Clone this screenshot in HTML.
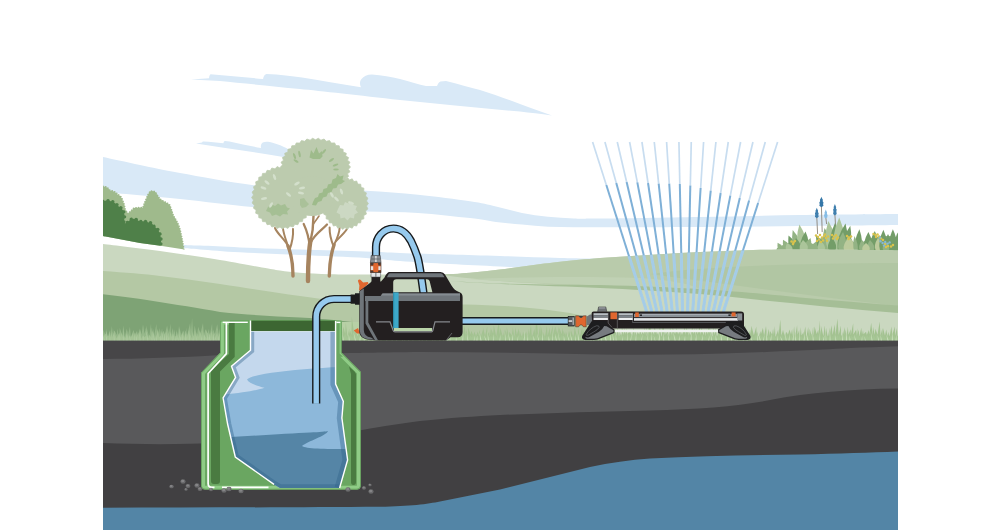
<!DOCTYPE html>
<html lang="en">
<head>
<meta charset="utf-8">
<title>Garden pump rainwater tank illustration</title>
<style>
html,body{margin:0;padding:0;background:#fff;}
body{width:1000px;height:530px;overflow:hidden;font-family:"Liberation Sans",sans-serif;}
svg{display:block;}
</style>
</head>
<body>
<svg width="1000" height="530" viewBox="0 0 1000 530" role="img" aria-label="Garden pump drawing water from an underground rainwater tank to a lawn sprinkler">
<rect width="1000" height="530" fill="#fff"/>
<clipPath id="frame"><rect x="103" y="0" width="795" height="530"/></clipPath>
<g clip-path="url(#frame)">
<g id="sky" fill="#d9e9f7">
<path d="M191,79.4 L209,78.2 C209.3,76.5 209.5,75 210.5,74.3 C228,75.5 246,77.5 263,79 C263.5,77 264,74.8 266.5,74 C280,74.5 292,76 302,77.5 C320,80.5 340,84 361,87.2 C359.5,84.5 359.5,81.5 361.5,79 C363.5,76 367,74.5 372,74.4 C382,75 391,77 400,79 C410,81.5 419,84.5 426,86 L437,86 C438,84 438.5,82 440.5,81.5 L446,81 C458,84 470,87.5 480,90 C494,94.5 508,99.5 520,104 C532,108.5 543,112.5 552,115.4 C540,114 530,112.8 520,111.6 C480,108 440,104 400,100 C360,95.5 320,91 300,89 C270,86 240,83 220,81 Z"/>
<path d="M196,143.5 L202,142.6 C202.3,141.8 202.6,141.5 203.5,141.4 C210,141.8 217,142.6 223.4,143.2 C223.6,142 224,141.2 225,141 C231,141.6 237,143 243,144.6 C249,145.8 255,147 261,148 C260.6,146 261,143.5 262.8,142.5 C264.5,141.7 266.5,141.6 268,141.8 C272,142.4 275,143.5 278,144.6 C282,146 285,147.5 288,149 L300,154 L300,160 C280,155.8 250,151.6 222,147.4 Z"/>
<path d="M103.0,157.0 C109.2,158.3 127.2,162.3 140.0,165.0 C152.8,167.7 161.3,169.7 180.0,173.0 C198.7,176.3 230.3,182.3 252.0,185.0 C273.7,187.7 291.0,188.0 310.0,189.0 C329.0,190.0 348.0,189.9 366.0,190.8 C384.0,191.8 400.7,193.0 418.0,194.7 C435.3,196.4 457.0,199.2 470.0,201.2 C483.0,203.1 487.3,204.4 496.0,206.4 C504.7,208.4 513.3,211.2 522.0,212.9 C530.7,214.6 539.3,215.9 548.0,216.8 C556.7,217.7 565.3,218.1 574.0,218.4 C582.7,218.7 579.0,218.8 600.0,218.6 C621.0,218.4 666.7,217.6 700.0,217.0 C733.3,216.4 767.0,215.5 800.0,215.0 C833.0,214.5 881.7,214.2 898.0,214.0 L898.0,225.0 C881.7,225.2 833.0,225.7 800.0,226.0 C767.0,226.3 733.3,226.8 700.0,227.0 C666.7,227.2 621.0,227.2 600.0,227.2 C579.0,227.2 582.7,227.3 574.0,227.2 C565.3,227.1 556.7,227.1 548.0,226.7 C539.3,226.3 530.7,225.4 522.0,224.6 C513.3,223.8 504.7,223.1 496.0,222.0 C487.3,220.9 483.0,219.6 470.0,218.1 C457.0,216.6 435.3,214.0 418.0,212.9 C400.7,211.8 384.0,212.1 366.0,211.6 C348.0,211.1 329.0,210.8 310.0,210.0 C291.0,209.2 273.7,208.8 252.0,207.0 C230.3,205.2 204.8,201.5 180.0,199.0 C155.2,196.5 115.8,193.2 103.0,192.0 Z"/>
<path d="M183.0,244.9 C185.8,245.0 190.5,245.2 200.0,245.6 C209.5,246.0 223.3,246.8 240.0,247.4 C256.7,248.1 279.0,248.8 300.0,249.5 C321.0,250.2 349.3,251.0 366.0,251.6 C382.7,252.2 386.0,252.5 400.0,253.0 C414.0,253.5 433.3,254.0 450.0,254.5 C466.7,255.0 481.7,255.4 500.0,256.0 C518.3,256.6 540.0,257.5 560.0,258.0 C580.0,258.5 610.0,258.8 620.0,259.0 L620.0,272.0 C610.0,271.7 580.0,270.9 560.0,270.0 C540.0,269.1 518.3,267.5 500.0,266.5 C481.7,265.5 466.7,264.9 450.0,264.0 C433.3,263.1 414.0,262.0 400.0,261.0 C386.0,260.0 382.7,259.0 366.0,258.0 C349.3,257.0 321.0,255.9 300.0,255.0 C279.0,254.1 256.7,253.2 240.0,252.3 C223.3,251.4 209.5,250.1 200.0,249.4 C190.5,248.7 185.8,248.5 183.0,248.3 Z"/>
</g>
<clipPath id="bclip"><path d="M103,150 L200,150 L200,252.2 L184.4,249.6 L160.4,245.8 L140,243.1 L103,236.1 Z"/></clipPath>
<g clip-path="url(#bclip)">
<path fill="#9fba8c" d="M103,186.5 C106,186.5 108,188 110,190.5 C113,191 116,192 117.5,194.5 C120,195.5 122,197.5 122.5,200.5 C124,203 124.5,206 125,209 C126,211 127,212.5 128,213.5 C130,212 132,210 134,208 C137,207.5 140,208 143,207.5 C144,204.5 145,201.5 146.5,198.5 C147.5,195.5 149,192.5 150.5,191.2 C152,190.8 154,191.2 155.5,192.2 C157,194.5 158.5,197.5 160.5,199.5 C163,201.5 167,202.5 169.6,205 C171,208 172,212 173.5,216 C175.5,219 178,223 179.5,228 C181,233 182.5,241 183.9,249.6 L184.4,254 L103,254 Z"/>
<path fill="none" stroke="#9fba8c" stroke-width="1.8" stroke-linecap="round" stroke-dasharray="0.01 2.6" d="M103,186.5 C106,186.5 108,188 110,190.5 C113,191 116,192 117.5,194.5 C120,195.5 122,197.5 122.5,200.5 C124,203 124.5,206 125,209 C126,211 127,212.5 128,213.5 C130,212 132,210 134,208 C137,207.5 140,208 143,207.5 C144,204.5 145,201.5 146.5,198.5 C147.5,195.5 149,192.5 150.5,191.2 C152,190.8 154,191.2 155.5,192.2 C157,194.5 158.5,197.5 160.5,199.5 C163,201.5 167,202.5 169.6,205 C171,208 172,212 173.5,216 C175.5,219 178,223 179.5,228 C181,233 182.5,241 183.9,249.6 L184.4,254 L103,254 Z"/>
<path fill="#4f8049" d="M103,201.5 C105,200.5 108,200.3 110,201 C113,201.5 116,203.5 118,206 C121,207.5 123.5,210 124,213 C125,216 124.6,219.5 123.5,222.5 C124.5,223.5 126,223.5 127.5,222.5 C129,220.5 131,219 133.5,218.8 C136,219 138,220.5 140,221.7 C143,221 146,221.3 148.5,222.5 C151,222.5 153,224 154,226.5 C157,228 158.6,230 159.6,233 C161,236.5 161.5,241 160.5,246 L160.5,254 L103,254 Z"/>
<path fill="none" stroke="#4f8049" stroke-width="3.4" stroke-linecap="round" stroke-dasharray="0.01 5" d="M103,201.5 C105,200.5 108,200.3 110,201 C113,201.5 116,203.5 118,206 C121,207.5 123.5,210 124,213 C125,216 124.6,219.5 123.5,222.5 C124.5,223.5 126,223.5 127.5,222.5 C129,220.5 131,219 133.5,218.8 C136,219 138,220.5 140,221.7 C143,221 146,221.3 148.5,222.5 C151,222.5 153,224 154,226.5 C157,228 158.6,230 159.6,233 C161,236.5 161.5,241 160.5,246 L160.5,254 L103,254 Z"/>
</g>
<g id="rbush">
<path d="M816.8,217.2 L817.5999999999999,234" stroke="#7d7466" stroke-width="0.8" fill="none"/>
<path d="M816.8,207.7 L817.4,209.2 L818.13,210.7 L817.9399999999999,212.1 L818.6999999999999,213.29999999999998 L818.3199999999999,215.1 L818.6999999999999,216.7 L816.8,218.2 L814.9,216.7 L815.28,215.1 L814.9,213.29999999999998 L815.66,212.1 L815.4699999999999,210.7 L816.1999999999999,209.2 Z" fill="#3f7fae"/>
<path d="M821.4,206.3 L822.1999999999999,232" stroke="#7d7466" stroke-width="0.8" fill="none"/>
<path d="M821.4,196.8 L822.0,198.3 L822.87,199.8 L822.66,201.20000000000002 L823.5,202.4 L823.0799999999999,204.20000000000002 L823.5,205.8 L821.4,207.3 L819.3,205.8 L819.72,204.20000000000002 L819.3,202.4 L820.14,201.20000000000002 L819.93,199.8 L820.8,198.3 Z" fill="#3577a8"/>
<path d="M825.8,217.5 L826.5999999999999,224" stroke="#7d7466" stroke-width="0.8" fill="none"/>
<path d="M825.8,209.5 L826.4,211.0 L827.06,212.5 L826.88,213.9 L827.5999999999999,215.1 L827.24,216.9 L827.5999999999999,217.0 L825.8,218.5 L824.0,217.0 L824.3599999999999,216.9 L824.0,215.1 L824.7199999999999,213.9 L824.54,212.5 L825.1999999999999,211.0 Z" fill="#86bde6"/>
<path d="M834.9,214.5 L835.6999999999999,228" stroke="#7d7466" stroke-width="0.8" fill="none"/>
<path d="M834.9,204 L835.5,205.5 L836.16,207 L835.98,208.4 L836.6999999999999,209.6 L836.34,211.4 L836.6999999999999,214.0 L834.9,215.5 L833.1,214.0 L833.4599999999999,211.4 L833.1,209.6 L833.8199999999999,208.4 L833.64,207 L834.3,205.5 Z" fill="#3f7fae"/>
<path fill="#93b384" d="M776,251.5 L777,248 L783,245 L790,242 L797,238 L803,238 L809,242 L813,244 L818,240 L826,235 L834,230 L842,230 L849,234 L853,242 L858,240 L863,242 L868,239 L875,237 L883,236 L893,236 L898,238 L898,251.5 Z"/>
<path d="M780.3,251.9 Q776.8,249.3 777.6,242.7 Q783.5,245.7 783.7,250.1 Z" fill="#93b384"/>
<path d="M786.8,252.2 Q782.0,248.6 783.0,239.7 Q790.9,243.9 791.2,249.8 Z" fill="#93b384"/>
<path d="M792.5,252.1 Q787.2,246.6 788.5,235.5 Q797.3,242.4 797.5,249.9 Z" fill="#739d68"/>
<path d="M796.2,251.8 Q790.7,243.9 792.7,230.0 Q802.0,240.5 801.8,250.2 Z" fill="#93b384"/>
<path d="M799.5,251.5 Q794.4,240.9 799.4,224.6 Q808.6,238.9 806.5,250.5 Z" fill="#abc59a"/>
<path d="M800.9,250.8 Q798.3,242.3 805.5,231.5 Q810.9,243.3 807.1,251.2 Z" fill="#739d68"/>
<path d="M803.4,250.1 Q802.7,243.8 810.5,238.0 Q813.0,247.3 808.6,251.9 Z" fill="#93b384"/>
<path d="M795.3,251.4 Q791.8,246.4 796.0,238.0 Q802.6,244.7 800.7,250.6 Z" fill="#739d68"/>
<path d="M800.9,251.3 Q797.3,247.0 803.0,240.0 Q809.9,245.8 807.1,250.7 Z" fill="#abc59a"/>
<path d="M787.6,251.9 Q784.0,249.4 787.0,243.0 Q793.5,245.9 792.4,250.1 Z" fill="#abc59a"/>
<path d="M821.6,252.3 Q815.8,247.0 816.0,235.5 Q825.5,242.0 826.4,249.7 Z" fill="#739d68"/>
<path d="M825.7,251.6 Q820.5,242.6 824.5,228.0 Q833.7,240.0 832.3,250.4 Z" fill="#93b384"/>
<path d="M828.3,250.5 Q822.9,238.8 828.3,221.0 Q837.9,236.9 835.7,249.5 Z" fill="#abc59a"/>
<path d="M830.6,249.9 Q827.7,238.4 835.0,223.0 Q841.1,238.9 837.4,250.1 Z" fill="#739d68"/>
<path d="M834.8,250.0 Q830.7,236.3 839.2,217.4 Q847.5,236.4 843.2,250.0 Z" fill="#abc59a"/>
<path d="M837.5,249.4 Q835.9,237.6 845.5,223.4 Q849.9,240.0 844.5,250.6 Z" fill="#739d68"/>
<path d="M842.1,249.4 Q841.5,238.5 850.3,225.7 Q853.0,241.0 847.9,250.6 Z" fill="#739d68"/>
<path d="M838.9,250.8 Q836.1,242.7 843.0,232.0 Q848.7,243.4 845.1,251.2 Z" fill="#93b384"/>
<path d="M819.3,251.5 Q815.8,247.4 820.0,240.0 Q826.5,245.4 824.7,250.5 Z" fill="#abc59a"/>
<path d="M828.9,251.0 Q825.7,245.5 832.0,238.0 Q838.3,245.5 835.1,251.0 Z" fill="#739d68"/>
<path d="M847.7,251.7 Q843.2,246.0 848.0,236.0 Q856.3,243.4 854.3,250.3 Z" fill="#bccb9d"/>
<path d="M844.7,251.2 Q842.0,247.3 846.0,241.0 Q851.2,246.3 849.3,250.8 Z" fill="#bccb9d"/>
<path d="M855.3,250.8 Q853.1,241.5 859.4,229.3 Q864.0,242.2 860.7,251.2 Z" fill="#739d68"/>
<path d="M854.3,251.2 Q852.0,245.0 854.5,236.0 Q858.7,244.4 857.7,250.8 Z" fill="#93b384"/>
<path d="M860.3,251.2 Q857.1,246.9 862.0,240.0 Q868.0,245.9 865.7,250.8 Z" fill="#93b384"/>
<path d="M864.9,250.9 Q861.9,242.9 868.4,232.0 Q874.5,243.2 871.1,251.1 Z" fill="#739d68"/>
<path d="M870.9,250.9 Q868.0,242.3 874.8,231.0 Q880.6,242.9 877.1,251.1 Z" fill="#739d68"/>
<path d="M868.3,251.2 Q865.1,246.9 870.0,240.0 Q876.0,245.9 873.7,250.8 Z" fill="#93b384"/>
<path d="M876.1,251.2 Q872.7,246.0 878.0,238.0 Q884.4,245.1 881.9,250.8 Z" fill="#bccb9d"/>
<path d="M880.1,250.9 Q877.3,241.9 883.4,229.7 Q889.0,242.2 885.9,251.1 Z" fill="#739d68"/>
<path d="M885.1,251.0 Q882.1,243.9 888.0,234.0 Q893.9,243.9 890.9,251.0 Z" fill="#739d68"/>
<path d="M890.1,251.0 Q887.1,241.9 892.9,229.3 Q898.8,241.9 895.9,251.0 Z" fill="#739d68"/>
<path d="M894.9,251.0 Q893.0,243.1 897.4,232.5 Q901.4,243.3 899.1,251.0 Z" fill="#739d68"/>
<path d="M863.1,251.0 Q860.1,247.6 866.0,243.0 Q871.9,247.6 868.9,251.0 Z" fill="#bccb9d"/>
<path d="M883.5,251.0 Q881.0,247.2 886.0,242.0 Q891.0,247.2 888.5,251.0 Z" fill="#93b384"/>
<circle cx="791.5" cy="241.5" r="1.25" fill="#d9c34d"/>
<circle cx="793.6" cy="242.6" r="1.25" fill="#d9c34d"/>
<circle cx="795" cy="241" r="1.25" fill="#d9c34d"/>
<circle cx="793" cy="244" r="1.25" fill="#d9c34d"/>
<circle cx="816" cy="235.5" r="1.25" fill="#d9c34d"/>
<circle cx="818" cy="237" r="1.25" fill="#d9c34d"/>
<circle cx="820" cy="235" r="1.25" fill="#d9c34d"/>
<circle cx="822" cy="237.5" r="1.25" fill="#d9c34d"/>
<circle cx="824" cy="236" r="1.25" fill="#d9c34d"/>
<circle cx="826" cy="238" r="1.25" fill="#d9c34d"/>
<circle cx="819" cy="239.5" r="1.25" fill="#d9c34d"/>
<circle cx="823" cy="240.5" r="1.25" fill="#d9c34d"/>
<circle cx="827" cy="240.8" r="1.25" fill="#d9c34d"/>
<circle cx="817" cy="241" r="1.25" fill="#d9c34d"/>
<circle cx="821" cy="242" r="1.25" fill="#d9c34d"/>
<circle cx="825" cy="234.6" r="1.25" fill="#d9c34d"/>
<circle cx="828" cy="236.5" r="1.25" fill="#d9c34d"/>
<circle cx="832" cy="235" r="1.25" fill="#d9c34d"/>
<circle cx="834" cy="236.5" r="1.25" fill="#d9c34d"/>
<circle cx="836" cy="235.2" r="1.25" fill="#d9c34d"/>
<circle cx="838" cy="237.5" r="1.25" fill="#d9c34d"/>
<circle cx="833" cy="238.5" r="1.25" fill="#d9c34d"/>
<circle cx="837" cy="239" r="1.25" fill="#d9c34d"/>
<circle cx="847" cy="236" r="1.25" fill="#d9c34d"/>
<circle cx="849" cy="237.5" r="1.25" fill="#d9c34d"/>
<circle cx="851" cy="236.5" r="1.25" fill="#d9c34d"/>
<circle cx="848.5" cy="239" r="1.25" fill="#d9c34d"/>
<circle cx="873.5" cy="234" r="1.25" fill="#d9c34d"/>
<circle cx="875.5" cy="235" r="1.25" fill="#d9c34d"/>
<circle cx="877.5" cy="234.4" r="1.25" fill="#d9c34d"/>
<circle cx="876" cy="237" r="1.25" fill="#d9c34d"/>
<circle cx="879" cy="236.5" r="1.25" fill="#d9c34d"/>
<circle cx="881" cy="238.5" r="1.25" fill="#d9c34d"/>
<circle cx="883" cy="240" r="1.25" fill="#d9c34d"/>
<circle cx="885" cy="244" r="1.25" fill="#d9c34d"/>
<circle cx="888" cy="246" r="1.25" fill="#d9c34d"/>
<circle cx="891" cy="246.5" r="1.25" fill="#d9c34d"/>
<circle cx="886" cy="247" r="1.25" fill="#d9c34d"/>
<circle cx="893" cy="245" r="1.25" fill="#d9c34d"/>
<circle cx="880.5" cy="241.2" r="1.2" fill="#86b8d4"/>
<circle cx="882.6" cy="243" r="1.2" fill="#86b8d4"/>
<circle cx="885.2" cy="242" r="1.2" fill="#86b8d4"/>
<circle cx="887.6" cy="243.6" r="1.2" fill="#86b8d4"/>
<circle cx="889.6" cy="242.4" r="1.2" fill="#86b8d4"/>
<circle cx="884" cy="245.6" r="1.2" fill="#86b8d4"/>
<circle cx="880" cy="237.5" r="1.2" fill="#86b8d4"/>
</g>
<path fill="#cad8c0" d="M103.0,244.0 C112.5,245.2 140.5,248.3 160.0,251.0 C179.5,253.7 203.0,257.2 220.0,260.0 C237.0,262.8 252.0,265.8 262.0,267.5 C272.0,269.2 273.7,269.6 280.0,270.5 C286.3,271.4 291.7,272.2 300.0,272.8 C308.3,273.4 318.3,273.9 330.0,274.2 C341.7,274.5 351.7,274.5 370.0,274.6 C388.3,274.7 423.3,274.9 440.0,274.6 C456.7,274.3 460.0,273.7 470.0,272.8 C480.0,271.9 490.0,270.7 500.0,269.5 C510.0,268.3 520.0,266.8 530.0,265.5 C540.0,264.2 548.3,263.1 560.0,261.8 C571.7,260.6 586.7,259.1 600.0,258.0 C613.3,256.9 626.7,256.2 640.0,255.4 C653.3,254.6 666.7,253.7 680.0,253.0 C693.3,252.3 706.7,251.7 720.0,251.2 C733.3,250.7 746.7,250.1 760.0,249.8 C773.3,249.5 785.0,249.4 800.0,249.4 C815.0,249.4 833.7,249.6 850.0,249.8 C866.3,250.0 890.0,250.4 898.0,250.5 L898,342 L103,342 Z"/>
<clipPath id="hillclip"><path d="M103.0,244.0 C112.5,245.2 140.5,248.3 160.0,251.0 C179.5,253.7 203.0,257.2 220.0,260.0 C237.0,262.8 252.0,265.8 262.0,267.5 C272.0,269.2 273.7,269.6 280.0,270.5 C286.3,271.4 291.7,272.2 300.0,272.8 C308.3,273.4 318.3,273.9 330.0,274.2 C341.7,274.5 351.7,274.5 370.0,274.6 C388.3,274.7 423.3,274.9 440.0,274.6 C456.7,274.3 460.0,273.7 470.0,272.8 C480.0,271.9 490.0,270.7 500.0,269.5 C510.0,268.3 520.0,266.8 530.0,265.5 C540.0,264.2 548.3,263.1 560.0,261.8 C571.7,260.6 586.7,259.1 600.0,258.0 C613.3,256.9 626.7,256.2 640.0,255.4 C653.3,254.6 666.7,253.7 680.0,253.0 C693.3,252.3 706.7,251.7 720.0,251.2 C733.3,250.7 746.7,250.1 760.0,249.8 C773.3,249.5 785.0,249.4 800.0,249.4 C815.0,249.4 833.7,249.6 850.0,249.8 C866.3,250.0 890.0,250.4 898.0,250.5 L898,342 L103,342 Z"/></clipPath>
<path fill="#b9cbab" d="M440.0,274.6 C445.0,274.3 460.0,273.7 470.0,272.8 C480.0,271.9 490.0,270.7 500.0,269.5 C510.0,268.3 520.0,266.8 530.0,265.5 C540.0,264.2 548.3,263.1 560.0,261.8 C571.7,260.6 586.7,259.1 600.0,258.0 C613.3,256.9 626.7,256.2 640.0,255.4 C653.3,254.6 666.7,253.7 680.0,253.0 C693.3,252.3 706.7,251.7 720.0,251.2 C733.3,250.7 746.7,250.1 760.0,249.8 C773.3,249.5 785.0,249.4 800.0,249.4 C815.0,249.4 833.7,249.6 850.0,249.8 C866.3,250.0 890.0,250.4 898.0,250.5 L898,308 C800,298 700,290 600,286 C540,284 480,281 440,274.6 Z"/>
<path fill="#b1c6a3" d="M650,274 C700,267 780,263.5 898,263 L898,306 C820,297 740,286 650,274 Z"/>
<path fill="#c0d1b4" d="M470,279 C520,277 580,276 640,278 C670,280 690,284 700,289 C640,286.5 540,284.5 470,279 Z"/>
<path fill="#a5be96" d="M448,281 C470,282.2 485,283 500,283.5 C540,284.3 570,284.6 600,285 C640,286 670,287.5 700,289 C740,291.5 770,294.5 800,297.5 C840,301 870,303.5 898,305.5 L898,313 C850,309 800,304 760,300 C740,297.5 720,295.5 700,294 C660,291 630,289.3 600,288 C550,286 490,284 448,281 Z"/>
<path fill="#b4c8a4" d="M103,271 C125,272.5 145,274 160,276 C180,278.5 200,281 220,284 C250,288.5 275,292.5 300,296 C325,299.5 345,302.5 370,304 C400,304.8 440,304.5 465,304.4 C500,305 540,308 570,313 C585,316 595,319 605,322 L605,342 L103,342 Z"/>
<path fill="#7ea375" d="M103,294.2 C120,296 135,298 150,300.6 C175,304.5 200,308.5 220,312 C250,315 275,316.5 300,317.5 C325,319 345,321 360,323 L360,342 L103,342 Z"/>
<g id="tree" fill="none" stroke="#a6845f" stroke-linecap="round">
<path stroke-width="3.4" d="M293,276 C293,266 292,256 288,246"/>
<path stroke-width="2" d="M288.5,247 C285,239 278,235 275,228"/>
<path stroke-width="2" d="M288,246 C286,240 283.5,234 282.7,227"/>
<path stroke-width="2" d="M289.5,250 C292,243 293.5,236 293,229"/>
<path stroke-width="4.4" d="M308,281 C308,268 308.5,253 310.5,240"/>
<path stroke-width="2.2" d="M309.5,246 C309,238 307,231 303.7,224"/>
<path stroke-width="2.4" d="M310,244 C312,236 313.5,226 313.5,216"/>
<path stroke-width="2.2" d="M311,242 C315,234 322,230 327,224.5"/>
<path stroke-width="1.6" d="M313.5,224 C315,221 317.5,218.5 319,216"/>
<path stroke-width="3.4" d="M329.3,276 C329.5,266 330.5,255 334,245"/>
<path stroke-width="2" d="M333.5,246 C331,240 329.5,234 329.6,227.5"/>
<path stroke-width="2" d="M334,245 C337,239 339.5,233 339.7,227"/>
<path stroke-width="2" d="M336,241 C340,237 344.5,233 347,229"/>
</g>
<path d="M350.5,167.0 L348.4,169.2 L350.0,171.7 L347.5,173.7 L348.6,176.4 L345.7,177.9 L346.3,180.7 L343.1,181.9 L343.1,184.7 L339.8,185.4 L339.2,188.2 L335.8,188.4 L334.7,191.1 L331.2,190.9 L329.6,193.4 L326.2,192.7 L324.1,195.0 L320.9,193.8 L318.4,195.7 L315.5,194.2 L312.6,195.7 L310.1,193.8 L306.9,195.0 L304.8,192.7 L301.4,193.4 L299.8,190.9 L296.3,191.1 L295.2,188.4 L291.8,188.2 L291.2,185.4 L287.9,184.7 L287.9,181.9 L284.7,180.7 L285.3,177.9 L282.4,176.4 L283.5,173.7 L281.0,171.7 L282.6,169.2 L280.5,167.0 L282.6,164.8 L281.0,162.3 L283.5,160.3 L282.4,157.6 L285.3,156.1 L284.7,153.3 L287.9,152.1 L287.9,149.3 L291.2,148.6 L291.8,145.8 L295.2,145.6 L296.3,142.9 L299.8,143.1 L301.4,140.6 L304.8,141.3 L306.9,139.0 L310.1,140.2 L312.6,138.3 L315.5,139.8 L318.4,138.3 L320.9,140.2 L324.1,139.0 L326.2,141.3 L329.6,140.6 L331.2,143.1 L334.7,142.9 L335.8,145.6 L339.2,145.8 L339.8,148.6 L343.1,149.3 L343.1,152.1 L346.3,153.3 L345.7,156.1 L348.6,157.6 L347.5,160.3 L350.0,162.3 L348.4,164.8 Z" fill="#bccbae" stroke="#bccbae" stroke-width="0.8" stroke-linejoin="round"/>
<path d="M313.4,197.5 L311.5,200.1 L312.9,203.0 L310.6,205.2 L311.5,208.2 L308.9,210.0 L309.3,213.2 L306.3,214.5 L306.2,217.7 L303.1,218.4 L302.4,221.6 L299.2,221.7 L297.9,224.7 L294.8,224.3 L293.1,227.0 L290.0,226.1 L287.9,228.4 L285.0,227.0 L282.5,228.9 L280.0,227.0 L277.1,228.4 L275.0,226.1 L271.9,227.0 L270.2,224.3 L267.1,224.7 L265.8,221.7 L262.6,221.6 L261.9,218.4 L258.8,217.7 L258.7,214.5 L255.7,213.2 L256.1,210.0 L253.5,208.2 L254.4,205.2 L252.1,203.0 L253.5,200.1 L251.6,197.5 L253.5,194.9 L252.1,192.0 L254.4,189.8 L253.5,186.8 L256.1,185.0 L255.7,181.8 L258.7,180.5 L258.8,177.3 L261.9,176.6 L262.6,173.4 L265.8,173.3 L267.1,170.3 L270.2,170.7 L271.9,168.0 L275.0,168.9 L277.1,166.6 L280.0,168.0 L282.5,166.1 L285.0,168.0 L287.9,166.6 L290.0,168.9 L293.1,168.0 L294.8,170.7 L297.9,170.3 L299.2,173.3 L302.4,173.4 L303.1,176.6 L306.2,177.3 L306.3,180.5 L309.3,181.8 L308.9,185.0 L311.5,186.8 L310.6,189.8 L312.9,192.0 L311.5,194.9 Z" fill="#bccbae" stroke="#bccbae" stroke-width="0.8" stroke-linejoin="round"/>
<path d="M368.4,203.5 L366.5,206.0 L367.9,208.9 L365.5,210.9 L366.4,214.1 L363.7,215.5 L363.9,218.8 L361.1,219.6 L360.7,222.8 L357.7,222.9 L356.7,226.0 L353.8,225.4 L352.2,228.2 L349.5,227.0 L347.4,229.4 L345.0,227.5 L342.6,229.4 L340.5,227.0 L337.8,228.2 L336.2,225.4 L333.3,226.0 L332.3,222.9 L329.3,222.8 L328.9,219.6 L326.1,218.8 L326.3,215.5 L323.6,214.1 L324.5,210.9 L322.1,208.9 L323.5,206.0 L321.6,203.5 L323.5,201.0 L322.1,198.1 L324.5,196.1 L323.6,192.9 L326.3,191.5 L326.1,188.2 L328.9,187.4 L329.3,184.2 L332.3,184.1 L333.3,181.0 L336.2,181.6 L337.8,178.8 L340.5,180.0 L342.6,177.6 L345.0,179.5 L347.4,177.6 L349.5,180.0 L352.2,178.8 L353.8,181.6 L356.7,181.0 L357.7,184.1 L360.7,184.2 L361.1,187.4 L363.9,188.2 L363.7,191.5 L366.4,192.9 L365.5,196.1 L367.9,198.1 L366.5,201.0 Z" fill="#bccbae" stroke="#bccbae" stroke-width="0.8" stroke-linejoin="round"/>
<ellipse cx="312" cy="196" rx="22" ry="20" fill="#bccbae"/>
<g fill="#9ebb8b">
<path d="M309.5,157.5 L311,150 L313.5,153.5 L316.5,147 L319,153.5 L322,151 L322.5,156.5 L320,159 L313,159 Z"/>
<ellipse cx="294.5" cy="156" rx="3.2" ry="1.1" transform="rotate(70 294.5 156)"/>
<ellipse cx="299.5" cy="154" rx="3.4" ry="1.1" transform="rotate(80 299.5 154)"/>
<ellipse cx="296" cy="161" rx="2.8" ry="1.1" transform="rotate(30 296 161)"/>
<ellipse cx="324" cy="151.5" rx="3" ry="1.1" transform="rotate(-50 324 151.5)"/>
<ellipse cx="331.5" cy="160" rx="3" ry="1.1" transform="rotate(-35 331.5 160)"/>
<ellipse cx="335.5" cy="165" rx="3" ry="1.1" transform="rotate(-20 335.5 165)"/>
<ellipse cx="336" cy="169.5" rx="2.8" ry="1.1" transform="rotate(0 336 169.5)"/>
<path d="M313,202 L315,198 L318,197 L319,193.5 L322.5,192.5 L323.5,189 L327,188 L328,184.5 L331.5,183.5 L332.5,179.5 L336,178 L337.5,174 L340,176.5 L343.5,175.5 L342.5,180 L345,181 L341,184 L338,184.5 L336.5,188 L333,188.5 L331.5,192 L328,193 L326.5,196.5 L323,197.5 L321.5,201 L318,202 L316,205.5 L312,205 Z"/>
<path d="M268,207 L272,204.5 L275,206 L278,203.5 L281,205.5 L285,204 L287,207.5 L290,208.5 L287,211.5 L288,214.5 L283,214 L280,216.5 L276,214.5 L272,216 L270,212.5 L266,211 Z" opacity="0.75"/>
<path d="M300,199 L304,198 L306,201 L309,204 L306,207 L302,208 L300,205 Z" opacity="0.6"/>
</g>
<g fill="#d3dfcb">
<ellipse cx="274.5" cy="177" rx="3.1" ry="1.35" transform="rotate(70 274.5 177)"/>
<ellipse cx="267" cy="182.5" rx="3.1" ry="1.35" transform="rotate(40 267 182.5)"/>
<ellipse cx="263.5" cy="188" rx="3.1" ry="1.35" transform="rotate(20 263.5 188)"/>
<ellipse cx="297" cy="183.5" rx="3.1" ry="1.35" transform="rotate(-30 297 183.5)"/>
<ellipse cx="302" cy="188" rx="3.1" ry="1.35" transform="rotate(-10 302 188)"/>
<ellipse cx="301" cy="193" rx="3.1" ry="1.35" transform="rotate(10 301 193)"/>
<ellipse cx="288.5" cy="194.5" rx="3.1" ry="1.35" transform="rotate(40 288.5 194.5)"/>
<ellipse cx="264" cy="198.5" rx="3.1" ry="1.35" transform="rotate(-10 264 198.5)"/>
<ellipse cx="271" cy="205" rx="3.1" ry="1.35" transform="rotate(-60 271 205)"/>
<ellipse cx="332" cy="195" rx="3.1" ry="1.35" transform="rotate(60 332 195)"/>
<ellipse cx="336.5" cy="199" rx="3.1" ry="1.35" transform="rotate(50 336.5 199)"/>
<ellipse cx="341.5" cy="191.5" rx="3.1" ry="1.35" transform="rotate(70 341.5 191.5)"/>
<ellipse cx="351" cy="203" rx="3.1" ry="1.35" transform="rotate(20 351 203)"/>
</g>
<path fill="#cfdac7" d="M338,209 L340,205 L343.5,205.5 L345,202 L348.5,203.5 L351.5,201.5 L353,205 L357,206 L355.5,209.5 L358,212.5 L354.5,214.5 L354,218.5 L350,217.5 L347.5,220.5 L344.5,217.5 L340.5,218.5 L340,214.5 L336.5,212.5 Z" opacity="0.85"/>
<g id="spray" fill="none" stroke-linecap="butt">
<path d="M592.60,142.0 L606.31,185.0" stroke="#c8ddf0" stroke-width="1.7"/>
<path d="M606.31,185.0 L646.80,312.0" stroke="#7fb0d7" stroke-width="2"/>
<path d="M604.93,142.0 L616.26,183.0" stroke="#c8ddf0" stroke-width="1.7"/>
<path d="M616.26,183.0 L651.90,312.0" stroke="#7fb0d7" stroke-width="2"/>
<path d="M617.27,142.0 L626.62,182.0" stroke="#c8ddf0" stroke-width="1.7"/>
<path d="M626.62,182.0 L657.00,312.0" stroke="#7fb0d7" stroke-width="2"/>
<path d="M629.60,142.0 L637.32,182.4" stroke="#c8ddf0" stroke-width="1.7"/>
<path d="M637.32,182.4 L662.10,312.0" stroke="#7fb0d7" stroke-width="2"/>
<path d="M641.93,142.0 L648.03,183.0" stroke="#c8ddf0" stroke-width="1.7"/>
<path d="M648.03,183.0 L667.20,312.0" stroke="#7fb0d7" stroke-width="2"/>
<path d="M654.26,142.0 L658.68,183.6" stroke="#c8ddf0" stroke-width="1.7"/>
<path d="M658.68,183.6 L672.30,312.0" stroke="#7fb0d7" stroke-width="2"/>
<path d="M666.60,142.0 L669.24,183.6" stroke="#c8ddf0" stroke-width="1.7"/>
<path d="M669.24,183.6 L677.40,312.0" stroke="#7fb0d7" stroke-width="2"/>
<path d="M678.93,142.0 L679.81,184.0" stroke="#c8ddf0" stroke-width="1.7"/>
<path d="M679.81,184.0 L682.50,312.0" stroke="#7fb0d7" stroke-width="2"/>
<path d="M691.26,142.0 L690.32,185.6" stroke="#c8ddf0" stroke-width="1.7"/>
<path d="M690.32,185.6 L687.60,312.0" stroke="#7fb0d7" stroke-width="2"/>
<path d="M703.60,142.0 L700.65,188.0" stroke="#c8ddf0" stroke-width="1.7"/>
<path d="M700.65,188.0 L692.70,312.0" stroke="#7fb0d7" stroke-width="2"/>
<path d="M715.93,142.0 L710.75,190.6" stroke="#c8ddf0" stroke-width="1.7"/>
<path d="M710.75,190.6 L697.80,312.0" stroke="#7fb0d7" stroke-width="2"/>
<path d="M728.26,142.0 L720.65,193.0" stroke="#c8ddf0" stroke-width="1.7"/>
<path d="M720.65,193.0 L702.90,312.0" stroke="#7fb0d7" stroke-width="2"/>
<path d="M740.60,142.0 L730.32,195.6" stroke="#c8ddf0" stroke-width="1.7"/>
<path d="M730.32,195.6 L708.00,312.0" stroke="#7fb0d7" stroke-width="2"/>
<path d="M752.93,142.0 L739.81,198.0" stroke="#c8ddf0" stroke-width="1.7"/>
<path d="M739.81,198.0 L713.10,312.0" stroke="#7fb0d7" stroke-width="2"/>
<path d="M765.26,142.0 L749.09,200.4" stroke="#c8ddf0" stroke-width="1.7"/>
<path d="M749.09,200.4 L718.20,312.0" stroke="#7fb0d7" stroke-width="2"/>
<path d="M777.60,142.0 L758.11,203.0" stroke="#c8ddf0" stroke-width="1.7"/>
<path d="M758.11,203.0 L723.30,312.0" stroke="#7fb0d7" stroke-width="2"/>
<path d="M592.60,142.0 L646.80,312.0 M604.93,142.0 L651.90,312.0 M617.27,142.0 L657.00,312.0 M629.60,142.0 L662.10,312.0 M641.93,142.0 L667.20,312.0 M654.26,142.0 L672.30,312.0 M666.60,142.0 L677.40,312.0 M678.93,142.0 L682.50,312.0 M691.26,142.0 L687.60,312.0 M703.60,142.0 L692.70,312.0 M715.93,142.0 L697.80,312.0 M728.26,142.0 L702.90,312.0 M740.60,142.0 L708.00,312.0 M752.93,142.0 L713.10,312.0 M765.26,142.0 L718.20,312.0 M777.60,142.0 L723.30,312.0" stroke="#a6cde9" stroke-width="3.1" clip-path="url(#hillclip)" opacity="0.95"/>
</g>
<rect x="103" y="336" width="119" height="5" fill="#a2c193"/>
<rect x="342" y="336.5" width="556" height="4.5" fill="#a4c392"/>
<path d="M103.0,341.0 L103.0,335.1 L103.3,329.8 L105.6,335.5 L105.9,330.5 L108.4,336.9 L110.2,330.3 L110.5,335.7 L111.9,326.0 L113.0,336.9 L114.4,330.6 L116.9,334.9 L117.3,328.5 L119.2,337.2 L119.7,328.0 L122.4,334.9 L123.2,325.6 L124.8,336.4 L126.8,328.6 L127.7,336.2 L129.9,326.8 L130.9,336.8 L133.5,330.1 L134.9,334.9 L137.0,330.7 L137.8,334.9 L139.9,328.5 L141.6,334.5 L143.0,324.3 L144.5,333.8 L146.7,325.4 L146.6,335.4 L146.8,327.9 L149.2,336.9 L151.0,323.5 L151.5,335.5 L151.8,327.9 L154.0,336.2 L156.4,323.9 L157.1,336.8 L159.6,328.1 L160.0,334.8 L161.1,329.1 L162.3,335.0 L163.3,331.0 L164.8,334.5 L167.1,325.5 L168.7,333.9 L170.7,323.8 L170.8,337.2 L172.6,327.8 L173.6,337.3 L174.3,329.3 L175.8,337.4 L176.4,329.8 L177.8,335.9 L179.0,326.1 L181.5,335.4 L184.1,330.0 L184.2,336.3 L185.3,330.3 L187.2,335.1 L190.1,322.9 L190.9,333.1 L192.1,318.0 L193.2,336.7 L194.7,325.4 L196.9,336.5 L198.2,326.7 L200.4,333.8 L203.0,323.1 L204.1,337.4 L205.4,329.2 L207.5,333.2 L209.0,328.8 L209.6,335.9 L212.1,323.5 L212.5,334.7 L213.0,329.2 L214.9,333.9 L217.2,324.3 L218.7,334.1 L220.5,325.7 L220.9,333.9 L222.0,329.6 L222.0,336.0 L222.0,341.0 Z" fill="#95b789" opacity="1.0"/>
<path d="M103.0,341.0 L103.0,337.6 L105.6,333.6 L106.2,337.4 L108.1,335.2 L108.0,338.5 L109.3,331.0 L109.9,337.8 L112.2,331.7 L112.3,337.4 L114.5,330.4 L114.8,337.9 L115.1,334.5 L116.7,338.5 L118.7,333.5 L118.7,337.2 L119.7,332.5 L121.1,338.3 L121.1,332.8 L123.5,338.2 L123.6,336.0 L125.4,338.0 L126.8,332.7 L128.1,338.6 L128.9,335.4 L131.0,337.2 L133.0,333.0 L133.8,337.7 L135.0,332.3 L136.1,337.7 L138.3,332.8 L138.4,337.1 L140.1,330.3 L141.4,339.1 L142.8,335.2 L144.4,337.2 L146.1,335.6 L146.4,337.3 L146.4,331.7 L148.2,338.2 L149.6,334.7 L151.4,338.1 L152.8,331.0 L154.6,339.2 L156.2,334.8 L156.7,337.8 L157.5,328.8 L159.2,337.1 L161.1,335.6 L161.6,338.6 L163.2,330.5 L163.4,338.7 L165.0,333.5 L165.2,339.0 L166.6,330.5 L167.0,337.1 L166.8,331.9 L168.7,339.1 L170.9,331.2 L171.3,337.2 L172.9,333.3 L174.3,339.0 L174.7,335.2 L176.3,338.6 L176.8,335.7 L178.2,338.5 L178.8,334.3 L181.0,338.0 L182.4,330.6 L182.6,337.4 L182.6,333.2 L184.5,338.1 L185.4,333.0 L186.8,337.7 L189.0,330.1 L189.5,339.0 L189.8,333.6 L192.2,339.1 L192.2,331.6 L193.9,338.7 L194.8,330.8 L196.8,338.7 L197.7,333.2 L198.9,337.1 L199.8,330.2 L202.0,338.2 L202.8,329.6 L204.1,338.7 L204.1,334.8 L206.5,338.6 L206.2,329.2 L208.3,337.8 L209.8,332.5 L210.2,337.0 L211.2,330.7 L213.0,337.4 L212.8,331.7 L214.8,338.9 L217.1,332.2 L217.8,337.4 L219.8,333.0 L220.3,338.7 L222.0,330.6 L222.0,338.5 L222.0,341.0 Z" fill="#a4c395" opacity="1.0"/>
<path d="M104.0,341 L102.7,333.8 L105.1,341 Z M105.9,341 L106.1,328.1 L107.2,341 Z M109.5,341 L109.5,329.2 L110.4,341 Z M113.7,341 L113.7,328.8 L114.9,341 Z M117.4,341 L118.3,333.5 L118.5,341 Z M119.2,341 L120.1,332.1 L120.3,341 Z M123.2,341 L123.2,327.2 L124.3,341 Z M126.3,341 L127.3,329.2 L127.6,341 Z M130.0,341 L128.7,333.5 L131.0,341 Z M134.0,341 L134.2,331.9 L134.9,341 Z M135.8,341 L136.4,332.1 L137.1,341 Z M139.5,341 L139.6,332.0 L140.7,341 Z M142.6,341 L144.0,333.2 L143.6,341 Z M147.4,341 L145.6,327.4 L148.5,341 Z M151.6,341 L151.4,327.2 L152.6,341 Z M153.8,341 L152.8,327.4 L155.1,341 Z M155.9,341 L157.5,330.3 L156.9,341 Z M160.1,341 L161.5,330.4 L161.4,341 Z M162.5,341 L162.4,327.7 L163.4,341 Z M164.1,341 L163.9,330.6 L165.2,341 Z M166.1,341 L165.5,331.6 L167.5,341 Z M167.7,341 L169.0,328.7 L168.7,341 Z M172.3,341 L173.7,329.0 L173.4,341 Z M175.1,341 L176.9,331.2 L176.3,341 Z M177.8,341 L177.0,331.0 L178.8,341 Z M179.8,341 L179.0,328.2 L181.2,341 Z M182.2,341 L182.2,332.1 L183.2,341 Z M185.0,341 L186.3,327.3 L186.4,341 Z M188.6,341 L190.2,327.6 L189.8,341 Z M192.5,341 L193.3,333.7 L193.7,341 Z M196.5,341 L195.7,329.5 L197.4,341 Z M201.1,341 L201.0,333.1 L202.2,341 Z M203.6,341 L205.3,328.8 L204.7,341 Z M207.3,341 L207.5,331.9 L208.4,341 Z M209.4,341 L208.4,332.9 L210.9,341 Z M212.6,341 L214.1,332.5 L214.1,341 Z M215.7,341 L214.6,333.0 L216.6,341 Z M218.4,341 L217.4,333.4 L219.4,341 Z" fill="#b4cfa6" opacity="0.7"/>
<rect x="342" y="322" width="20" height="19" fill="#b7d0a6"/>
<path d="M342.0,341.0 L342.0,335.7 L343.4,326.8 L345.2,333.9 L345.8,322.8 L347.5,337.0 L349.3,328.5 L349.3,334.0 L350.2,330.3 L351.4,335.0 L351.8,316.8 L354.5,336.3 L354.9,328.7 L357.7,336.8 L360.5,326.2 L361.0,334.0 L362.3,330.9 L362.8,335.6 L364.1,327.5 L365.7,335.2 L367.5,326.5 L367.4,335.0 L368.8,331.1 L369.5,336.3 L370.6,331.5 L371.3,336.0 L371.8,319.9 L373.3,336.9 L374.9,327.5 L376.6,337.8 L377.2,325.3 L378.7,335.1 L379.4,327.3 L381.2,336.1 L382.4,324.1 L384.4,335.8 L386.4,330.6 L387.3,336.9 L389.0,325.2 L389.2,335.8 L391.3,326.7 L391.2,334.0 L392.6,330.4 L393.2,337.3 L395.3,329.2 L395.0,334.3 L396.8,331.6 L396.7,337.1 L397.8,325.0 L399.7,336.3 L401.7,318.2 L402.9,336.7 L402.9,329.7 L405.2,337.0 L407.4,325.3 L407.4,337.7 L408.4,326.2 L409.7,336.4 L410.2,329.4 L412.1,334.7 L414.5,331.8 L415.4,336.8 L417.2,326.2 L417.0,334.0 L418.0,325.7 L420.0,336.7 L420.9,330.2 L422.7,334.0 L423.8,326.7 L424.3,334.0 L426.2,330.4 L425.9,334.1 L427.1,330.2 L428.2,334.7 L430.0,326.4 L430.2,334.7 L431.2,329.7 L432.9,337.6 L433.1,330.6 L434.6,334.3 L436.6,328.1 L436.3,335.8 L437.0,323.6 L439.6,335.3 L440.9,328.9 L442.5,337.4 L444.3,326.8 L445.3,334.9 L446.6,329.9 L448.4,334.3 L448.6,330.3 L450.4,335.8 L452.9,329.7 L453.0,337.4 L455.2,326.3 L455.1,337.7 L457.3,326.3 L457.5,335.5 L459.7,331.2 L459.6,336.8 L461.2,329.4 L462.9,335.3 L464.6,325.4 L465.9,336.8 L466.2,329.4 L467.9,336.5 L468.1,327.4 L470.6,334.6 L471.3,330.7 L473.4,335.6 L474.4,331.6 L476.0,336.2 L477.8,331.4 L478.7,335.6 L479.3,329.8 L480.9,336.4 L483.2,329.1 L483.1,334.2 L482.9,326.9 L485.1,336.0 L487.2,326.3 L487.4,334.2 L488.7,331.9 L489.3,337.3 L490.2,327.6 L491.1,335.9 L491.2,328.4 L493.2,334.0 L493.8,325.2 L496.2,336.3 L498.9,321.2 L499.6,334.7 L500.4,327.7 L502.8,337.1 L504.6,329.2 L504.8,337.4 L505.5,329.2 L506.8,335.6 L506.7,326.9 L508.8,335.4 L509.4,331.7 L511.8,335.5 L512.9,327.6 L514.4,337.8 L515.4,327.4 L516.8,334.7 L518.8,328.6 L519.5,337.3 L519.7,330.7 L521.9,337.7 L523.1,331.4 L524.3,335.8 L526.3,331.4 L527.0,337.3 L529.0,328.5 L528.7,337.1 L531.0,325.0 L531.9,337.2 L534.5,328.6 L535.2,334.8 L536.4,316.2 L538.3,337.3 L540.0,325.7 L540.1,335.8 L540.8,325.6 L542.6,334.1 L542.9,331.7 L544.8,337.4 L546.9,325.7 L547.6,335.6 L549.8,327.5 L550.2,335.3 L552.7,325.8 L552.8,335.5 L555.2,326.4 L555.1,334.8 L555.5,326.6 L557.4,333.9 L558.6,326.3 L559.1,337.7 L559.2,327.4 L561.7,334.2 L562.7,327.7 L563.6,337.8 L563.4,330.4 L565.4,335.5 L565.9,331.3 L567.7,337.3 L569.0,330.6 L570.3,335.3 L571.0,330.3 L573.6,337.8 L574.6,326.5 L576.8,336.1 L578.5,328.1 L579.6,337.7 L582.2,326.9 L582.8,334.7 L583.1,329.2 L585.4,337.0 L585.4,328.1 L587.0,337.1 L589.1,328.5 L589.7,334.7 L591.7,323.2 L591.9,336.0 L593.9,332.0 L594.8,336.9 L595.3,328.8 L597.7,334.4 L599.0,329.7 L599.4,334.7 L600.7,330.1 L602.2,337.0 L604.6,330.1 L604.8,334.8 L605.8,331.9 L608.0,336.5 L610.5,326.8 L611.3,335.2 L612.8,325.6 L613.3,334.4 L615.5,328.7 L616.7,337.0 L617.4,326.9 L619.1,337.7 L619.6,331.5 L621.8,337.7 L621.8,325.5 L623.6,334.9 L624.9,327.2 L625.2,334.5 L626.9,327.9 L627.0,334.0 L629.6,331.5 L630.2,334.4 L629.9,330.6 L632.0,336.7 L633.8,327.6 L635.0,336.6 L635.2,331.3 L636.8,335.0 L637.5,331.9 L639.2,334.4 L640.3,329.8 L641.4,334.7 L642.6,331.8 L644.1,334.4 L644.6,327.1 L646.4,337.0 L646.0,326.3 L648.1,335.9 L649.6,315.6 L651.1,334.5 L652.2,330.7 L654.1,335.0 L654.5,325.4 L656.2,334.7 L656.4,331.2 L658.7,336.2 L659.8,326.5 L661.6,337.7 L663.6,316.6 L663.9,336.3 L664.9,330.2 L665.8,334.8 L667.5,330.4 L669.0,337.2 L670.1,327.5 L672.0,336.1 L672.7,327.4 L675.1,334.3 L676.5,327.9 L678.1,334.4 L679.6,330.7 L680.1,335.7 L680.6,330.9 L682.0,334.9 L684.1,329.7 L683.9,333.9 L684.5,325.3 L685.7,335.3 L686.5,326.9 L688.7,336.2 L688.5,330.6 L690.5,336.0 L692.3,327.1 L693.5,334.2 L695.0,327.8 L695.4,336.9 L696.4,328.0 L697.7,334.4 L699.7,325.8 L700.6,335.3 L701.6,327.5 L703.5,335.3 L704.9,329.1 L705.2,336.2 L706.6,329.0 L707.3,334.7 L709.1,325.5 L710.1,335.6 L710.2,328.6 L712.4,337.4 L713.4,326.5 L714.3,335.3 L715.6,328.2 L716.9,337.0 L719.6,328.3 L720.0,333.9 L720.5,329.3 L722.9,337.8 L723.7,331.6 L725.1,336.8 L725.9,329.1 L727.5,337.0 L728.5,326.8 L729.5,334.7 L730.1,329.3 L732.5,336.9 L734.2,327.6 L735.6,334.5 L738.0,329.5 L738.9,334.5 L739.2,329.9 L741.3,336.8 L742.2,326.0 L743.6,336.7 L745.3,324.5 L745.9,335.3 L746.8,329.9 L748.0,337.6 L750.2,329.5 L750.8,334.5 L751.4,325.7 L753.9,335.2 L756.3,326.4 L756.6,334.7 L757.0,331.3 L758.6,337.2 L760.5,330.9 L760.9,334.2 L762.9,327.7 L764.1,335.7 L766.0,326.1 L767.1,336.8 L768.7,328.9 L770.0,336.0 L770.0,331.0 L772.1,334.4 L773.1,328.6 L773.9,335.2 L774.9,326.1 L775.5,337.5 L778.2,329.4 L778.6,335.1 L780.3,319.5 L781.4,335.9 L783.0,329.7 L784.7,336.5 L786.6,331.8 L787.9,334.7 L789.5,329.4 L791.0,334.5 L792.1,329.0 L793.0,336.7 L794.1,326.2 L795.1,336.5 L797.1,325.2 L797.6,334.7 L799.1,329.9 L799.8,337.6 L800.8,326.9 L801.5,335.4 L803.6,332.0 L803.6,335.4 L805.3,326.5 L806.4,337.0 L808.2,327.1 L809.1,337.1 L809.6,328.8 L811.9,336.4 L813.1,326.6 L813.6,336.6 L814.6,326.5 L816.7,334.1 L818.2,329.8 L819.0,334.6 L819.0,320.2 L820.7,336.3 L820.9,325.6 L823.4,336.2 L824.7,325.4 L826.0,337.8 L826.1,327.5 L827.8,337.5 L829.8,327.2 L829.4,336.9 L831.5,325.2 L832.6,335.0 L834.7,324.5 L835.5,335.0 L837.4,318.4 L838.7,334.9 L841.0,325.5 L841.1,337.5 L842.7,331.9 L842.7,335.9 L844.7,326.9 L844.9,335.1 L845.6,329.4 L846.6,335.3 L847.9,326.4 L848.4,334.7 L850.7,329.3 L850.8,335.0 L853.2,323.3 L853.4,334.5 L856.1,329.7 L856.5,336.3 L858.8,329.8 L859.2,336.7 L861.3,327.8 L862.0,334.5 L863.0,330.2 L863.6,334.3 L866.0,331.7 L866.8,335.1 L868.9,330.1 L869.4,334.6 L871.2,322.7 L872.7,335.4 L873.0,326.7 L874.7,334.8 L875.5,328.7 L877.5,334.7 L879.7,321.5 L880.5,335.7 L882.4,327.9 L882.5,337.1 L883.0,327.9 L885.0,335.8 L886.2,329.5 L887.8,337.4 L888.5,331.7 L889.7,336.5 L891.3,326.5 L892.4,334.3 L894.9,326.4 L895.0,336.1 L896.9,328.0 L897.5,336.8 L900.2,326.6 L898.0,336.5 L898.0,341.0 Z" fill="#a3c291" opacity="1.0"/>
<path d="M342.0,341.0 L342.0,339.1 L341.7,335.4 L343.5,337.2 L345.6,333.4 L345.6,337.1 L345.5,334.2 L347.1,337.7 L349.1,334.3 L348.9,337.0 L351.0,334.7 L350.8,337.2 L351.3,335.9 L352.5,337.7 L354.6,329.0 L355.2,337.6 L355.5,333.0 L357.5,337.5 L359.1,334.0 L360.2,338.2 L360.1,335.0 L361.8,339.2 L363.0,335.3 L363.4,338.8 L365.6,332.1 L365.8,338.2 L366.3,333.4 L368.5,338.2 L369.6,333.2 L370.1,338.9 L371.3,333.5 L371.9,338.9 L372.9,335.8 L373.6,338.6 L374.1,335.2 L376.3,338.5 L377.5,335.0 L378.8,337.2 L379.1,335.7 L381.5,338.7 L382.2,335.4 L383.8,337.2 L385.9,334.9 L385.5,337.6 L385.2,335.1 L387.1,338.5 L388.7,328.3 L388.9,338.8 L389.7,336.0 L390.5,338.9 L391.6,333.3 L392.5,339.1 L392.6,333.7 L394.1,338.8 L394.3,334.2 L395.7,338.8 L397.0,333.9 L397.9,339.1 L399.2,333.8 L399.4,338.1 L401.5,335.0 L401.9,338.7 L403.5,333.3 L403.4,338.4 L403.4,333.5 L405.0,338.1 L406.0,336.0 L407.3,338.5 L408.9,333.9 L408.8,337.3 L409.0,334.9 L411.2,338.0 L412.7,334.5 L414.0,339.0 L413.9,333.1 L415.4,337.7 L415.3,329.1 L417.1,338.1 L418.2,335.9 L418.8,339.1 L420.5,335.7 L421.2,339.0 L421.4,334.5 L422.8,338.9 L424.6,335.6 L424.7,337.1 L426.6,333.8 L426.9,338.4 L428.0,334.7 L428.9,338.5 L429.6,333.7 L431.6,337.4 L433.6,333.1 L433.6,337.1 L436.0,335.8 L436.2,338.1 L436.7,334.7 L437.9,338.9 L437.5,334.7 L439.4,337.4 L441.1,333.7 L442.2,338.7 L443.9,328.8 L444.8,337.9 L447.0,335.2 L447.2,338.6 L449.1,334.4 L448.9,337.1 L450.1,334.1 L450.8,338.9 L451.9,335.2 L452.9,338.6 L453.4,335.6 L454.5,337.9 L456.1,335.7 L456.2,338.2 L457.8,334.0 L458.4,338.7 L459.0,334.2 L460.6,339.2 L461.6,334.5 L462.3,338.1 L463.4,333.4 L464.2,338.9 L465.7,333.0 L466.0,338.4 L465.7,333.4 L467.5,337.1 L467.8,333.8 L469.5,337.7 L470.3,335.5 L471.9,337.6 L473.1,333.5 L474.2,337.7 L476.1,333.7 L476.6,337.5 L476.8,335.6 L479.3,338.3 L480.6,334.5 L481.5,338.2 L482.5,333.4 L484.0,338.0 L484.8,333.8 L486.0,338.1 L487.9,335.0 L488.0,338.0 L488.1,335.4 L490.0,337.4 L490.7,335.7 L492.2,337.2 L493.3,333.1 L494.8,337.2 L495.5,335.9 L496.2,338.1 L497.5,334.4 L498.7,338.5 L500.1,334.8 L501.1,338.4 L501.5,334.0 L503.8,337.1 L505.7,334.3 L505.7,338.5 L508.0,334.7 L507.8,337.0 L508.5,333.6 L510.0,337.7 L512.2,334.5 L512.5,338.9 L513.6,333.0 L515.1,338.8 L515.2,334.5 L516.9,337.8 L519.2,334.2 L519.2,337.7 L519.4,334.8 L520.6,337.7 L521.5,335.1 L522.0,337.8 L522.3,334.5 L523.7,339.0 L524.6,333.0 L525.8,338.9 L525.7,333.7 L527.5,339.1 L529.3,333.5 L529.6,338.5 L530.8,333.7 L531.0,337.9 L532.8,335.2 L532.6,337.2 L532.5,334.7 L534.5,338.7 L535.9,333.1 L536.8,337.2 L537.0,333.2 L538.2,338.1 L540.6,335.1 L540.8,338.8 L542.6,335.3 L543.5,338.7 L545.1,333.4 L545.3,338.6 L547.3,334.9 L547.0,338.3 L547.8,335.7 L549.1,338.7 L549.5,335.6 L550.6,337.8 L550.4,335.1 L552.3,338.6 L552.3,335.5 L554.2,337.4 L556.3,335.6 L556.8,337.1 L557.3,334.9 L558.4,338.2 L558.6,333.1 L560.1,337.9 L561.8,333.9 L561.6,337.3 L561.9,335.3 L563.6,337.5 L563.8,334.5 L565.1,338.4 L565.7,334.0 L567.1,337.8 L567.4,335.5 L568.6,338.6 L569.4,334.3 L570.1,337.6 L570.0,335.1 L571.6,337.3 L573.2,334.8 L573.4,337.7 L573.6,335.6 L576.0,337.7 L577.6,334.9 L578.4,338.8 L579.6,333.5 L580.1,339.2 L581.4,333.3 L581.7,338.4 L581.9,335.5 L583.1,337.4 L583.1,335.1 L584.6,337.7 L585.5,333.9 L586.8,338.6 L588.4,336.0 L588.7,338.7 L588.3,333.4 L590.1,337.6 L591.9,333.6 L591.7,337.4 L593.0,333.9 L593.2,337.2 L593.9,335.7 L595.0,338.2 L596.5,333.8 L597.4,337.2 L598.1,333.9 L598.9,337.4 L600.1,329.3 L600.4,338.0 L601.6,334.4 L602.2,338.8 L602.9,335.8 L603.9,338.7 L605.3,335.6 L605.8,338.5 L607.7,334.5 L607.5,338.5 L608.6,333.3 L609.3,337.8 L609.8,334.4 L611.9,339.0 L613.8,334.6 L614.1,338.6 L614.0,334.9 L615.9,338.5 L615.8,333.9 L617.6,339.2 L617.6,334.9 L619.7,337.0 L621.6,333.7 L622.4,338.8 L623.4,335.7 L624.6,337.8 L626.1,336.0 L626.8,338.9 L627.5,334.0 L629.5,338.8 L629.7,333.7 L630.9,337.5 L631.3,333.5 L633.2,337.4 L633.8,333.8 L635.8,337.4 L636.4,334.9 L637.6,337.4 L638.8,335.9 L639.4,338.1 L640.6,333.3 L641.8,337.7 L641.6,335.1 L643.4,339.2 L643.2,334.7 L645.0,337.4 L644.8,335.4 L647.0,337.8 L647.8,333.6 L649.6,337.8 L650.5,334.7 L651.8,338.3 L652.5,333.3 L654.3,338.5 L654.4,335.0 L656.5,337.1 L658.4,333.1 L658.5,337.7 L658.9,334.1 L661.3,338.2 L663.5,335.1 L663.5,339.2 L665.6,335.1 L665.8,337.8 L665.7,334.0 L667.5,338.0 L668.5,334.3 L669.4,338.0 L671.3,335.7 L671.4,338.1 L671.2,333.4 L672.9,338.0 L673.2,334.5 L674.7,338.3 L674.5,334.5 L676.3,337.6 L677.1,334.7 L677.8,339.0 L679.5,335.7 L680.2,338.0 L682.6,334.8 L682.8,338.7 L683.0,335.6 L685.3,338.6 L685.5,336.0 L687.2,337.3 L688.7,334.7 L689.6,337.6 L689.9,333.2 L691.8,339.0 L693.5,333.7 L693.6,339.2 L695.1,333.8 L695.6,339.0 L697.4,335.7 L697.8,338.2 L698.4,334.0 L700.5,339.0 L700.6,334.3 L703.1,337.7 L703.8,335.4 L705.6,337.7 L706.7,335.6 L707.5,338.9 L708.4,328.4 L710.1,338.8 L710.0,333.4 L712.2,338.9 L713.4,334.0 L714.7,339.1 L716.3,334.8 L717.3,339.2 L718.4,335.4 L719.2,338.4 L720.2,334.9 L720.8,339.2 L721.3,336.0 L722.7,337.7 L722.9,328.3 L724.7,338.0 L725.1,335.2 L726.5,338.0 L726.5,333.1 L728.7,337.8 L730.2,333.4 L731.1,337.1 L733.0,335.2 L733.0,338.1 L734.8,335.1 L735.4,339.1 L736.3,334.9 L737.7,338.4 L738.6,335.0 L739.6,339.2 L739.6,335.3 L741.3,338.6 L742.8,334.6 L743.9,337.6 L744.3,335.8 L745.6,337.9 L747.6,333.2 L747.7,338.4 L749.7,335.5 L749.2,338.2 L749.4,334.7 L751.7,338.9 L751.9,335.2 L754.4,338.8 L755.0,333.9 L756.2,337.6 L756.5,333.4 L758.4,337.3 L760.5,334.2 L761.1,337.3 L762.2,335.6 L763.0,337.6 L763.8,333.2 L765.3,339.1 L766.1,334.8 L767.6,338.1 L768.2,335.9 L769.6,337.2 L769.6,335.2 L771.8,337.6 L773.2,333.0 L774.0,337.5 L774.1,335.7 L775.9,337.9 L776.8,333.6 L777.4,337.6 L778.1,334.0 L779.6,338.6 L781.1,333.9 L781.4,338.1 L782.1,333.1 L783.8,337.8 L785.1,332.4 L786.6,337.5 L787.1,334.9 L789.0,338.1 L788.8,335.9 L790.6,338.9 L791.3,335.5 L792.7,339.2 L792.8,333.8 L794.4,337.8 L795.6,335.3 L796.9,337.2 L797.4,333.6 L798.8,338.3 L799.9,333.8 L800.3,337.2 L801.4,335.8 L802.9,338.7 L803.7,334.1 L805.6,337.8 L807.3,335.3 L807.7,338.9 L808.7,333.0 L809.5,337.4 L811.4,333.4 L812.1,338.9 L813.9,335.0 L813.9,337.3 L815.2,334.2 L816.2,337.3 L817.8,333.3 L817.9,339.2 L818.3,333.4 L819.6,338.9 L821.3,328.3 L821.1,339.0 L822.8,335.7 L823.6,337.0 L825.4,333.2 L825.4,339.2 L826.6,335.3 L826.9,339.2 L827.0,335.3 L829.0,338.2 L829.5,335.1 L831.8,338.9 L833.0,334.7 L833.4,338.1 L834.2,334.5 L835.8,337.3 L838.3,335.0 L838.5,339.1 L839.1,335.2 L840.9,338.4 L841.8,334.5 L842.4,338.0 L843.2,333.9 L843.8,338.4 L845.5,333.1 L846.2,338.4 L846.8,334.7 L848.0,337.9 L847.8,335.6 L850.0,338.7 L851.0,335.2 L852.7,337.2 L854.2,335.7 L854.4,338.0 L855.4,333.9 L855.8,337.3 L857.3,328.3 L857.7,337.8 L858.1,334.2 L859.8,338.1 L860.7,334.9 L862.2,338.0 L863.7,334.0 L864.5,338.2 L866.3,334.2 L866.2,338.9 L866.7,334.4 L868.6,337.4 L870.0,334.4 L871.3,337.8 L872.1,335.5 L873.0,338.4 L873.2,333.3 L875.6,338.7 L876.0,333.5 L878.2,338.2 L879.0,334.9 L879.7,338.2 L880.9,334.8 L881.2,337.7 L881.4,333.6 L883.3,338.5 L883.9,334.4 L885.2,339.1 L886.3,335.9 L887.1,338.7 L887.5,333.8 L888.8,338.8 L890.9,335.7 L891.4,339.2 L892.0,333.6 L893.4,338.3 L893.9,334.9 L895.4,337.9 L896.2,333.6 L897.7,338.4 L899.5,335.4 L898.0,338.5 L898.0,341.0 Z" fill="#a6c695" opacity="1.0"/>
<path d="M343.0,341 L342.4,332.0 L343.9,341 Z M348.7,341 L348.7,333.7 L349.9,341 Z M355.0,341 L353.3,331.5 L356.2,341 Z M359.3,341 L360.5,333.2 L360.4,341 Z M363.7,341 L363.5,330.7 L364.9,341 Z M368.2,341 L368.8,331.1 L369.6,341 Z M372.3,341 L372.9,335.8 L373.5,341 Z M378.0,341 L376.6,331.4 L379.0,341 Z M380.6,341 L379.2,331.1 L381.5,341 Z M386.2,341 L384.6,332.6 L387.5,341 Z M391.7,341 L390.1,333.1 L393.0,341 Z M395.8,341 L397.6,332.5 L397.2,341 Z M402.0,341 L401.4,335.1 L403.2,341 Z M404.3,341 L403.4,330.1 L405.3,341 Z M407.9,341 L409.2,334.5 L409.2,341 Z M412.5,341 L410.9,333.5 L413.6,341 Z M418.6,341 L419.9,331.2 L419.7,341 Z M421.8,341 L421.9,335.7 L422.9,341 Z M426.1,341 L426.4,333.1 L427.2,341 Z M432.0,341 L433.5,334.8 L433.2,341 Z M434.5,341 L434.6,334.1 L435.6,341 Z M439.2,341 L438.4,334.1 L440.6,341 Z M442.8,341 L443.9,331.7 L444.1,341 Z M447.1,341 L446.9,330.4 L448.5,341 Z M449.6,341 L450.1,333.4 L450.5,341 Z M455.7,341 L456.1,335.6 L456.8,341 Z M462.1,341 L463.2,332.6 L463.3,341 Z M467.4,341 L466.7,332.0 L468.5,341 Z M473.5,341 L475.0,335.1 L474.5,341 Z M476.2,341 L477.2,335.4 L477.6,341 Z M480.3,341 L479.4,332.0 L481.7,341 Z M485.6,341 L484.0,335.1 L486.9,341 Z M488.0,341 L487.3,331.0 L489.1,341 Z M492.9,341 L493.1,334.1 L493.9,341 Z M499.3,341 L500.5,334.1 L500.3,341 Z M505.1,341 L504.7,330.1 L506.0,341 Z M509.1,341 L508.1,332.2 L510.3,341 Z M511.7,341 L512.6,333.2 L512.9,341 Z M517.1,341 L518.2,335.3 L518.0,341 Z M523.5,341 L525.0,330.0 L524.7,341 Z M527.0,341 L527.9,333.9 L528.2,341 Z M533.4,341 L533.4,335.4 L534.9,341 Z M538.4,341 L536.9,332.8 L539.4,341 Z M541.9,341 L543.1,330.6 L542.9,341 Z M548.3,341 L548.6,335.8 L549.8,341 Z M552.1,341 L552.6,330.3 L553.0,341 Z M555.8,341 L554.9,333.3 L557.2,341 Z M558.9,341 L558.1,331.3 L559.8,341 Z M563.6,341 L563.8,335.4 L565.0,341 Z M568.6,341 L566.9,333.2 L569.8,341 Z M571.3,341 L569.9,332.1 L572.5,341 Z M575.1,341 L575.7,333.8 L576.1,341 Z M578.1,341 L577.5,330.4 L579.5,341 Z M584.3,341 L583.0,333.1 L585.2,341 Z M590.5,341 L590.5,335.3 L591.7,341 Z M593.3,341 L592.1,333.2 L594.5,341 Z M597.8,341 L596.7,333.8 L598.9,341 Z M601.0,341 L600.0,335.2 L602.4,341 Z M605.5,341 L603.7,330.7 L606.9,341 Z M609.9,341 L610.2,331.3 L611.2,341 Z M613.2,341 L612.0,331.5 L614.3,341 Z M615.6,341 L615.7,333.6 L616.7,341 Z M621.9,341 L622.1,335.5 L622.9,341 Z M626.8,341 L627.5,331.3 L627.7,341 Z M630.1,341 L631.9,332.4 L631.1,341 Z M635.2,341 L636.3,331.8 L636.3,341 Z M641.1,341 L642.6,333.2 L642.0,341 Z M647.6,341 L647.2,333.5 L648.5,341 Z M650.9,341 L651.5,331.6 L651.9,341 Z M654.7,341 L653.6,335.2 L655.7,341 Z M658.4,341 L660.2,330.1 L659.8,341 Z M662.9,341 L663.9,333.0 L664.3,341 Z M668.5,341 L667.4,332.2 L669.8,341 Z M674.5,341 L673.1,331.3 L675.9,341 Z M678.4,341 L680.0,335.0 L679.7,341 Z M684.0,341 L685.1,335.2 L685.4,341 Z M690.3,341 L691.5,331.5 L691.7,341 Z M695.2,341 L696.4,333.4 L696.6,341 Z M701.4,341 L703.0,334.2 L702.6,341 Z M707.9,341 L709.6,335.3 L709.2,341 Z M711.3,341 L710.3,331.0 L712.3,341 Z M715.6,341 L715.5,334.6 L717.0,341 Z M720.9,341 L720.5,331.7 L722.3,341 Z M726.7,341 L728.3,331.9 L728.1,341 Z M730.8,341 L731.3,335.5 L732.2,341 Z M734.6,341 L735.8,332.4 L735.9,341 Z M736.8,341 L735.1,333.1 L737.8,341 Z M742.7,341 L743.1,333.5 L743.9,341 Z M746.5,341 L746.0,334.7 L747.9,341 Z M751.5,341 L750.1,334.2 L752.6,341 Z M757.0,341 L757.5,333.3 L758.3,341 Z M759.7,341 L758.1,331.9 L761.1,341 Z M762.8,341 L764.5,334.4 L763.9,341 Z M766.1,341 L766.5,330.7 L767.5,341 Z M770.1,341 L771.7,333.0 L771.3,341 Z M776.8,341 L778.0,334.9 L777.8,341 Z M781.4,341 L780.3,336.0 L782.9,341 Z M785.7,341 L784.8,331.1 L786.8,341 Z M788.4,341 L789.7,332.7 L789.6,341 Z M792.4,341 L793.8,330.4 L793.7,341 Z M795.0,341 L794.8,332.3 L796.4,341 Z M798.8,341 L799.3,332.0 L800.0,341 Z M803.4,341 L804.9,331.9 L804.6,341 Z M807.3,341 L805.7,330.1 L808.7,341 Z M812.7,341 L812.5,332.7 L814.0,341 Z M818.9,341 L819.8,331.6 L819.8,341 Z M822.6,341 L824.3,335.2 L824.1,341 Z M825.5,341 L825.8,332.5 L826.5,341 Z M829.5,341 L830.1,331.5 L830.6,341 Z M835.2,341 L835.4,334.3 L836.4,341 Z M841.9,341 L843.0,332.1 L843.2,341 Z M845.8,341 L846.6,330.2 L847.2,341 Z M849.3,341 L849.6,335.0 L850.7,341 Z M855.2,341 L853.9,333.9 L856.4,341 Z M861.4,341 L862.2,335.0 L862.4,341 Z M865.0,341 L864.3,335.7 L866.1,341 Z M871.6,341 L870.5,330.2 L872.7,341 Z M878.1,341 L877.5,334.8 L879.3,341 Z M880.8,341 L880.5,334.4 L882.0,341 Z M887.4,341 L886.4,334.4 L888.9,341 Z M891.7,341 L892.2,331.0 L893.1,341 Z M895.4,341 L896.3,335.1 L896.6,341 Z" fill="#cfe3c2" opacity="0.8"/>
<path fill="#59595b" d="M103,340.8 L898,340.8 L898,530 L103,530 Z"/>
<path fill="#474648" d="M103,340.8 L898,340.8 L898,346.3 C880,347 865,347.5 850,348 C830,349.2 815,350 800,350.6 C780,351.5 765,352 750,352.6 C700,354.5 650,355.3 600,354.5 C540,353 480,352 420,352 C380,352.5 360,353 350,353 L220,355 C180,357.5 140,358.8 103,359 Z"/>
<path fill="#414042" d="M103,443 C140,444.5 180,444.5 220,443 C270,441 320,435.5 362,430 C385,426 400,423.6 420,421 C450,418 475,416.2 500,415 C550,413 600,411.5 650,410.5 C700,409 740,406 770,400 C810,392.5 850,389 898,388.5 L898,530 L103,530 Z"/>
<path fill="#5385a6" d="M103,507.7 C200,507.6 300,507.3 380,506.8 C410,506.3 428,504 440,501.5 C460,497.5 480,493.5 500,489.5 C530,482 560,474.5 590,467 C610,463 630,460 650,458.6 C700,456 750,455 800,454.5 C840,453.5 870,452.5 898,451.5 L898,530 L103,530 Z"/>
<g id="tank">
<clipPath id="tc"><path d="M220.2,320.8 L341.4,320.8 L341.4,352.6 L360.6,371.8 L360.6,485.5 Q360.6,489.4 356.6,489.4 L205.3,489.4 Q201.3,489.4 201.3,485.5 L201.3,372.5 L220.2,352.8 Z"/></clipPath>
<path d="M220.2,320.8 L341.4,320.8 L341.4,352.6 L360.6,371.8 L360.6,485.5 Q360.6,489.4 356.6,489.4 L205.3,489.4 Q201.3,489.4 201.3,485.5 L201.3,372.5 L220.2,352.8 Z" fill="#6aa661"/>
<path d="M220.2,320.8 L341.4,320.8 L341.4,352.6 L360.6,371.8 L360.6,485.5 Q360.6,489.4 356.6,489.4 L205.3,489.4 Q201.3,489.4 201.3,485.5 L201.3,372.5 L220.2,352.8 Z" fill="none" stroke="#8fcc86" stroke-width="7.4" stroke-linejoin="round" clip-path="url(#tc)"/>
<path d="M220.2,320.8 L341.4,320.8 L341.4,352.6 L360.6,371.8 L360.6,485.5 Q360.6,489.4 356.6,489.4 L205.3,489.4 Q201.3,489.4 201.3,485.5 L201.3,372.5 L220.2,352.8 Z" fill="none" stroke="#5f9a57" stroke-width="1.2" stroke-linejoin="round" clip-path="url(#tc)"/>
<rect x="230" y="320" width="105" height="6" fill="#6aa661"/>
<path d="M336.3,321.4 L339.6,321.4 L339.6,353.4 L343,356.8 L336.3,356.8 Z" fill="#6aa661"/>
<path d="M229,323 L234.7,323 L234.7,357 L220,371.5 L220,481 Q220,484 217,484 L214,484 Q211,484 211,481 L211,370.5 L229,354 Z" fill="#4a7b41"/>
<path d="M349,366.5 L354.5,371.5 L356,374 L356,482 Q356,485 353.5,485 Q351,485 351,482 L351,374 Z" fill="#4a7b41"/>
<rect x="250.5" y="320.7" width="84.5" height="10.4" fill="#3c6632"/>
<path d="M222.6,322.3 L247.8,322.3" stroke="#fff" stroke-width="1.4" fill="none"/>
<path d="M226.4,322.3 L226.4,353.6 L208.1,373.5 L208.1,483.5 Q208.1,487.4 212,487.4 L214.5,487.4 M222,487.4 L268.5,487.4" stroke="#fff" stroke-width="1.7" fill="none" stroke-linejoin="round"/>
<path d="M336.4,322.4 L340.3,322.4" stroke="#fff" stroke-width="1.4" fill="none"/>
<clipPath id="lc"><path d="M250.4,331.3 L335.4,331.3 L335.4,384 L343.2,401.3 L341.8,418 L347.5,460 L339.5,488 L280,488 L274,484.5 L235.2,457 L227.5,424 L223,398 L235.5,377.4 L231.4,366.2 L250.4,350.2 Z"/></clipPath>
<g clip-path="url(#lc)">
<rect x="220" y="330" width="130" height="160" fill="#c4d8ed"/>
<path fill="#8db8da" d="M350,366.5 C330,367.5 300,369 278,372 C265,373.5 250,376 247,379.5 C249,383.5 258,386 264.5,387.8 C258,390 245,392.5 220,395 L220,490 L350,490 Z"/>
<path fill="#5585a6" d="M220,437.5 C250,436 290,433.5 310,432.5 C320,432 326,431.5 328,431 C326,436 308,441 302,446 C306,449 325,449 350,449 L350,490 L220,490 Z"/>
<path d="M250.4,331.3 L250.4,350.2 L231.4,366.2 L235.5,377.4 L223,398 L227.5,424 L235.2,457 L274,484.5 L280,488 L339.5,488" fill="none" stroke="#2f6289" stroke-opacity="0.4" stroke-width="7.6" stroke-linejoin="miter"/>
<path d="M335.4,331.3 L335.4,384 L343.2,401.3 L341.8,418 L347.5,460 L339.5,488" fill="none" stroke="#2f6289" stroke-opacity="0.4" stroke-width="10" stroke-linejoin="miter"/>
<rect x="250" y="331" width="86" height="0.9" fill="#e3edf7"/>
</g>
<path d="M250.5,320.6 L250.5,350.2 L231.5,366.2 L235.6,377.4 L223.1,398 L227.6,424 L235.3,457 L274,484.4" fill="none" stroke="#fff" stroke-width="1.4" stroke-linejoin="miter"/>
<path d="M335.6,321 L335.6,384 L343.3,401.3 L341.9,418 L347.6,460 L339.6,488" fill="none" stroke="#fff" stroke-width="1.4" stroke-linejoin="miter"/>
</g>
<ellipse cx="171.5" cy="486.5" rx="2.2" ry="1.87" fill="#6a6a6c"/>
<ellipse cx="171.2" cy="486.0" rx="1.32" ry="0.99" fill="#858587"/>
<ellipse cx="183" cy="481.5" rx="2.6" ry="2.21" fill="#6a6a6c"/>
<ellipse cx="182.7" cy="481.0" rx="1.56" ry="1.17" fill="#858587"/>
<ellipse cx="188" cy="486" rx="2.4" ry="2.04" fill="#6a6a6c"/>
<ellipse cx="187.7" cy="485.5" rx="1.44" ry="1.08" fill="#858587"/>
<ellipse cx="186" cy="489.5" rx="1.6" ry="1.36" fill="#6a6a6c"/>
<ellipse cx="185.7" cy="489.0" rx="0.96" ry="0.72" fill="#858587"/>
<ellipse cx="197" cy="485.5" rx="2.6" ry="2.21" fill="#6a6a6c"/>
<ellipse cx="196.7" cy="485.0" rx="1.56" ry="1.17" fill="#858587"/>
<ellipse cx="200" cy="489" rx="2.4" ry="2.04" fill="#6a6a6c"/>
<ellipse cx="199.7" cy="488.5" rx="1.44" ry="1.08" fill="#858587"/>
<ellipse cx="224" cy="490.5" rx="2.6" ry="2.21" fill="#6a6a6c"/>
<ellipse cx="223.7" cy="490.0" rx="1.56" ry="1.17" fill="#858587"/>
<ellipse cx="229" cy="489" rx="2.6" ry="2.21" fill="#6a6a6c"/>
<ellipse cx="228.7" cy="488.5" rx="1.56" ry="1.17" fill="#858587"/>
<ellipse cx="241" cy="491" rx="2.6" ry="2.21" fill="#6a6a6c"/>
<ellipse cx="240.7" cy="490.5" rx="1.56" ry="1.17" fill="#858587"/>
<ellipse cx="348" cy="489.5" rx="2.6" ry="2.21" fill="#6a6a6c"/>
<ellipse cx="347.7" cy="489.0" rx="1.56" ry="1.17" fill="#858587"/>
<ellipse cx="364" cy="488" rx="2" ry="1.70" fill="#6a6a6c"/>
<ellipse cx="363.7" cy="487.5" rx="1.20" ry="0.90" fill="#858587"/>
<ellipse cx="370" cy="485" rx="1.6" ry="1.36" fill="#6a6a6c"/>
<ellipse cx="369.7" cy="484.5" rx="0.96" ry="0.72" fill="#858587"/>
<ellipse cx="371" cy="491.5" rx="2.6" ry="2.21" fill="#6a6a6c"/>
<ellipse cx="370.7" cy="491.0" rx="1.56" ry="1.17" fill="#858587"/>
<ellipse cx="211" cy="489.5" rx="2" ry="1.70" fill="#6a6a6c"/>
<ellipse cx="210.7" cy="489.0" rx="1.20" ry="0.90" fill="#858587"/>
<path d="M351,299 L334,299 A17.8,17.8 0 0 0 316.2,316.8 L316.2,403.6" fill="none" stroke="#171a1c" stroke-width="8.2"/>
<path d="M351,299 L334,299 A17.8,17.8 0 0 0 316.2,316.8 L316.2,403.8" fill="none" stroke="#96caee" stroke-width="5.4"/>
<path d="M376,256 L376,247 C376,237.5 383,228.5 393.5,228.5 C402,228.5 407.5,234.5 411,241 C414,247 416,252.5 417.5,257 C419.5,263.5 421.5,278 423.5,293" fill="none" stroke="#171a1c" stroke-width="8.2" stroke-linecap="butt"/>
<path d="M376,256 L376,247 C376,237.5 383,228.5 393.5,228.5 C402,228.5 407.5,234.5 411,241 C414,247 416,252.5 417.5,257 C419.5,263.5 421.5,278 423.5,293" fill="none" stroke="#96caee" stroke-width="5.4" stroke-linecap="butt"/>
<path d="M462,321 L568,321" fill="none" stroke="#171a1c" stroke-width="8"/>
<path d="M462,321 L568,321" fill="none" stroke="#96caee" stroke-width="5"/>
<g id="pump">
<rect x="371.5" y="276.8" width="8.8" height="6" fill="#231f20"/>
<rect x="371" y="272.6" width="9.8" height="4.4" fill="#e4e6e8" stroke="#4a4a4a" stroke-width="0.5"/>
<rect x="375.5" y="272.8" width="0.8" height="4" fill="#55585b"/>
<rect x="370.4" y="262.8" width="10.6" height="9.6" fill="#e0672f" stroke="#3a2a22" stroke-width="0.6"/>
<path d="M370.8,266.2 L373.2,266.2 L373.2,270 L370.8,270 Z M380.6,266.2 L378.4,266.2 L378.4,270 L380.6,270 Z" fill="#e4e6e8"/>
<path d="M370.6,263 L373.6,263 L373.2,265.6 L370.6,265.6 Z M380.8,263 L378,263 L378.4,265.6 L380.8,265.6 Z M370.6,272.2 L373.6,272.2 L373.2,270.6 L370.6,270.6 Z M380.8,272.2 L378,272.2 L378.4,270.6 L380.8,270.6 Z" fill="#4a3a34"/>
<path d="M371.2,255.6 L380.2,255.6 L381,262.5 L370.4,262.5 Z" fill="#8a8f94" stroke="#3b3b3d" stroke-width="0.6"/>
<rect x="375.2" y="256" width="1.4" height="6" fill="#e6e8ea"/>
<rect x="371.4" y="258.6" width="8.8" height="0.8" fill="#5d6165"/>
<path d="M357.9,280.8 Q358.6,279.2 360.4,279.7 L363.2,282.4 L367.8,282 L368.5,283.4 L360.3,291 L359,290 L359.4,285.4 Z" fill="#e0672f"/>
<path d="M353.8,330.5 L358,328 L360,333.5 L357,333.5 Z" fill="#e0672f"/>
<path d="M350.6,294.5 L355,294.5 L355,293.3 L360,293.3 L360,304.8 L355,304.8 L355,303.8 L350.6,303.8 Z" fill="#1c1c1e"/>
<path d="M389.5,272 L440.5,272 Q443.5,272 445,274.5 L451.5,285.5 Q454.5,290.5 459,292 Q462.6,293 462.6,297 L462.6,332 Q462.6,337.3 457.5,337.3 L450.5,337.3 L446,340.6 L378,340.6 L372,340 Q359.3,339.5 359.3,331 L359.3,291 L370,283 L371.5,281.5 L381,281.5 L384.5,277.5 Q387,272 389.5,272 Z M396.5,279.2 L427,279.2 Q429,279.2 429.6,281 L432.4,292.2 L393.2,292.2 L393.2,282.5 Q393.2,279.2 396.5,279.2 Z" fill="#231f20" fill-rule="evenodd"/>
<path d="M390,273.3 L440.5,273.3 Q442.3,273.3 443.2,275 L444.5,277.2 L387,277.2 Q388.5,273.3 390,273.3 Z" fill="#6f757a"/>
<path d="M365,296 L380.5,296 L382.5,293.6 L460,293.6 L460,301 L365,301 Z" fill="#6f757a"/>
<path d="M382.5,293.6 L460,293.6 L460,295.4 L381,295.4 Z" fill="#858c91"/>
<path d="M359.8,291.2 L363.8,288.5 L363.8,330 Q364,336.5 371,337.5 L374,339.5 L370,339.5 Q359.8,338.5 359.8,330.5 Z" fill="#6f757a"/>
<path d="M365.5,301 L368.3,301 L368.3,322.5 L378,340.3 L375,340.3 L365.5,323.5 Z" fill="#6f757a"/>
<rect x="393.2" y="292.4" width="5.4" height="36" fill="#3da8c9"/>
<rect x="393.2" y="292.4" width="1" height="36" fill="#2b8aa8"/>
<path d="M394,328 L432,328 L432,331.3 L394,331.3 Z" fill="#b9d3a8"/>
<path d="M376,321.8 L390,321.8 L393.2,330.5 Q393.5,331.8 395,331.8 L431.5,331.8 Q432.5,331.8 432.8,330.5 L435,321.8 L450,321.8" fill="none" stroke="#85888c" stroke-width="1.2"/>
<path d="M452,333 L446,340.5" stroke="#6f7175" stroke-width="0.8" fill="none"/>
</g>
<g id="sprinkler">
<rect x="615" y="329.8" width="104.5" height="2.4" fill="#eef2ee"/>
<rect x="568.2" y="316.4" width="6" height="9.6" fill="#55595d" stroke="#1d1d1f" stroke-width="0.7"/>
<rect x="568.6" y="320.3" width="3.6" height="1.5" fill="#e3e6e8"/>
<rect x="572.6" y="317.5" width="1.2" height="7.4" fill="#b9bdc0"/>
<path d="M575.6,315.8 L578.6,315.8 Q581,319.6 583.4,315.8 L586.2,315.8 L586.2,326.8 L583.4,326.8 Q581,322.6 578.6,326.8 L575.6,326.8 Z" fill="#e0672f" stroke="#3a2a22" stroke-width="0.5"/>
<path d="M578.6,315.8 Q581,319.6 583.4,315.8 Z" fill="#3a3a3c"/>
<path d="M586.8,316.5 L590,314.5 L592.6,314.5 L592.6,325.5 L586.8,325 Z" fill="#6f7478"/>
<path d="M591.6,313.2 Q591.6,311.4 593.6,311.4 L741,311.4 Q744,311.4 744,314.4 L744,327.2 L719,328.4 L592.5,328.4 Z" fill="#231f20"/>
<path d="M597.6,311.6 L598.6,306.9 L605.8,306.9 L606.8,311.6 Z" fill="#6e7276" stroke="#2a2a2c" stroke-width="0.5"/>
<rect x="599" y="307.3" width="6.4" height="1.3" fill="#9a9ea2"/>
<rect x="593.5" y="313.2" width="14.5" height="2.2" fill="#b9bfc4"/>
<rect x="593.5" y="315.4" width="14.5" height="2.1" fill="#7b838a"/>
<rect x="593.5" y="317.7" width="14.5" height="2.3" fill="#eceef0"/>
<rect x="618.5" y="313.2" width="14.5" height="2.2" fill="#b9bfc4"/>
<rect x="618.5" y="315.4" width="14.5" height="2.1" fill="#7b838a"/>
<rect x="618.5" y="317.7" width="14.5" height="2.3" fill="#eceef0"/>
<rect x="634" y="313.8" width="103" height="3.4" fill="#8a9298"/>
<rect x="640" y="313.8" width="90" height="1.1" fill="#a9b0b6"/>
<rect x="634" y="318.1" width="104" height="2.6" fill="#e6e9eb"/>
<rect x="632.5" y="322" width="106" height="0.7" fill="#6b6f73"/>
<rect x="610.4" y="312.4" width="6.6" height="6.8" fill="#e0672f"/>
<rect x="635.2" y="312.4" width="3.6" height="4.6" fill="#e0672f"/>
<rect x="639.8" y="314.4" width="2.2" height="1.6" fill="#2a2a2c"/>
<rect x="731.6" y="312.4" width="4" height="4" fill="#e0672f"/>
<rect x="728.4" y="314.4" width="2.2" height="1.6" fill="#2a2a2c"/>
<path d="M737.2,313.4 L742.2,313.4 L742.2,320.5 L737.2,320.5 Z" fill="#8a9096"/>
<path d="M608.2,313 L608.2,323 L612,327.5 M617.3,313 L617.3,328 M632.6,313 L632.6,322.4" stroke="#8a8d90" stroke-width="0.5" fill="none"/>
<g>
<path d="M591.6,321.2 L606.4,321.2 L607.5,325 L614.6,329.4 L614.4,333 L601,338.2 Q598,339.7 594,339.9 L585.2,339.9 Q581.3,339.6 582.1,336 Z" fill="#1d1d1f"/>
<path d="M585.4,336.8 Q585.2,338.7 587.2,338.7 L594,338.7 Q597.5,338.5 600.5,337 L613.3,332.1 L613.4,330.3 L606.6,326.3 L604.2,326 Q602.5,329.8 599,331.8 L589,337.2 Q586.5,337.8 585.4,336.8 Z" fill="#777b80"/>
<path d="M586.2,334.4 Q590,328 596.5,325.8 Q599.5,325.3 599.2,327.4 Q597.5,330 594,331.8 L588.2,335.2 Q585.8,335.8 586.2,334.4 Z" fill="#1d1d1f" stroke="#6d7176" stroke-width="0.6"/>
</g>
<g transform="translate(1332.6,0) scale(-1,1)">
<path d="M591.6,321.2 L606.4,321.2 L607.5,325 L614.6,329.4 L614.4,333 L601,338.2 Q598,339.7 594,339.9 L585.2,339.9 Q581.3,339.6 582.1,336 Z" fill="#1d1d1f"/>
<path d="M585.4,336.8 Q585.2,338.7 587.2,338.7 L594,338.7 Q597.5,338.5 600.5,337 L613.3,332.1 L613.4,330.3 L606.6,326.3 L604.2,326 Q602.5,329.8 599,331.8 L589,337.2 Q586.5,337.8 585.4,336.8 Z" fill="#777b80"/>
<path d="M586.2,334.4 Q590,328 596.5,325.8 Q599.5,325.3 599.2,327.4 Q597.5,330 594,331.8 L588.2,335.2 Q585.8,335.8 586.2,334.4 Z" fill="#1d1d1f" stroke="#6d7176" stroke-width="0.6"/>
</g>
</g>
</g>
</svg>
</body>
</html>
